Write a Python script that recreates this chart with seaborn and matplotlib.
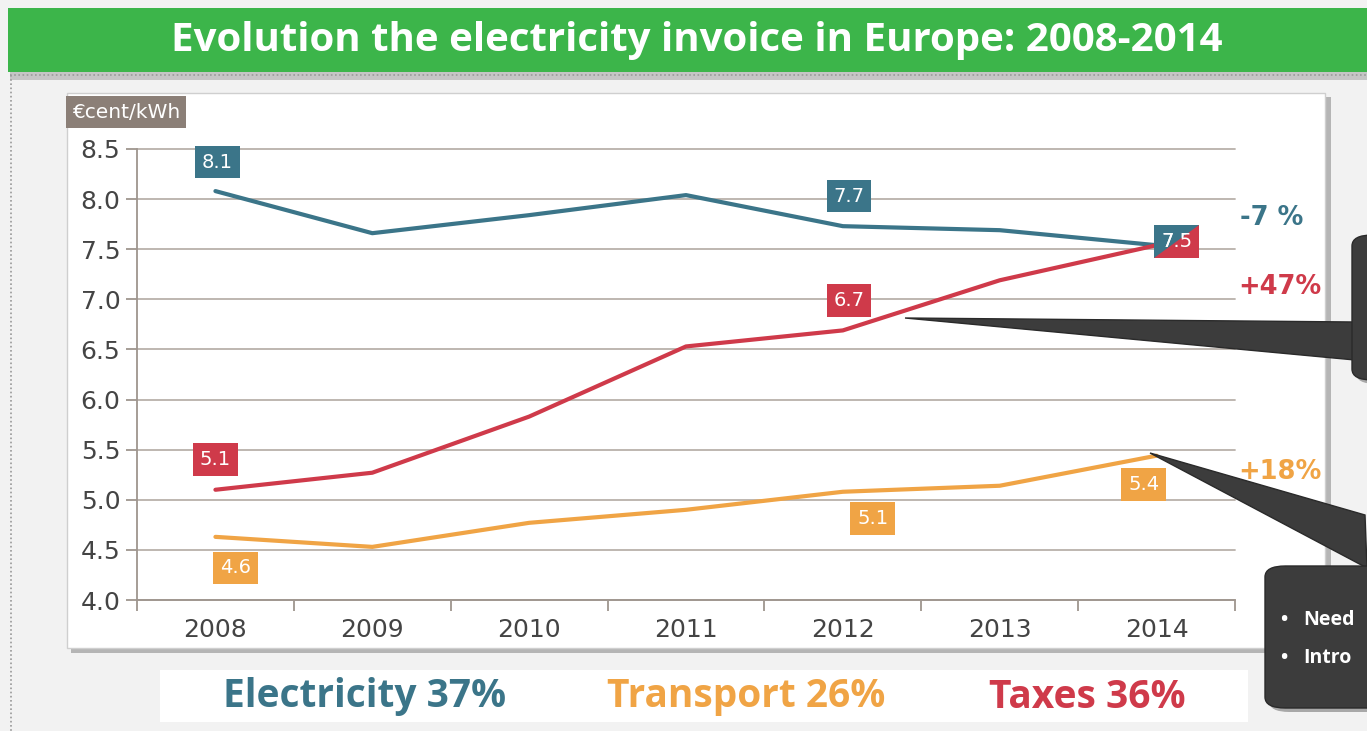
import matplotlib
matplotlib.use("Agg")
import matplotlib.pyplot as plt
from matplotlib.patches import Rectangle, FancyBboxPatch, Polygon
import seaborn as sns
import pandas as pd

# ---------------- data ----------------
years = ["2008", "2009", "2010", "2011", "2012", "2013", "2014"]
electricity = [8.08, 7.66, 7.84, 8.04, 7.73, 7.69, 7.54]
taxes = [5.10, 5.27, 5.83, 6.53, 6.69, 7.19, 7.54]
transport = [4.63, 4.53, 4.77, 4.90, 5.08, 5.14, 5.44]
series_names = ["Electricity", "Taxes", "Transport"]
changes = ["-7 %", "+47%", "+18%"]
shares = ["Electricity 37%", "Transport 26%", "Taxes 36%"]
title = "Evolution the electricity invoice in Europe: 2008-2014"
unit = "€cent/kWh"
yticks = [4.0, 4.5, 5.0, 5.5, 6.0, 6.5, 7.0, 7.5, 8.0, 8.5]
callout_words = ["Need", "Intro"]

C_EL = "#3b7589"
C_TX = "#cf3a4a"
C_TR = "#f0a445"
colors = {"Electricity": C_EL, "Taxes": C_TX, "Transport": C_TR}

W, H = 1367, 731
sns.set_theme(style="white")
plt.rcParams["font.family"] = ["DejaVu Sans"]

fig = plt.figure(figsize=(W / 100, H / 100), dpi=100)
fig.patch.set_facecolor("#f2f2f2")


def fx(x):
    return x / W


def fy(y):
    return 1 - y / H


def frect(x0, y0, x1, y1, **kw):
    r = Rectangle((fx(x0), fy(y1)), fx(x1) - fx(x0), fy(y0) - fy(y1),
                  transform=fig.transFigure, **kw)
    fig.add_artist(r)
    return r


# title bar
frect(10, 22, 1367, 80, facecolor="#9a9a9a", edgecolor="none", alpha=0.5, zorder=0)
frect(8, 8, 1367, 72, facecolor="#3cb54a", edgecolor="none", zorder=1)
fig.text(fx(697), fy(41), title, ha="center", va="center", color="white",
         fontsize=29, fontweight="bold", family=["Open Sans", "DejaVu Sans"], zorder=2)
# dotted lines
fig.add_artist(plt.Line2D([fx(10), fx(1367)], [fy(75), fy(75)], transform=fig.transFigure,
                          color="#999999", lw=1.2, ls=(0, (1, 1.5)), zorder=1))
fig.add_artist(plt.Line2D([fx(11), fx(11)], [fy(75), fy(731)], transform=fig.transFigure,
                          color="#999999", lw=1.2, ls=(0, (1, 1.5)), zorder=1))

# chart panel with shadow
frect(71, 97, 1331, 653, facecolor="#b5b5b5", edgecolor="none", zorder=0)
frect(67, 93, 1325, 648, facecolor="white", edgecolor="#cfcfcf", lw=1, zorder=0.5)

# bottom share panel
frect(160, 670, 1248, 722, facecolor="white", edgecolor="none", zorder=1)
share_colors = [C_EL, C_TR, C_TX]
share_x = [365, 746, 1087]
for s, c, x in zip(shares, share_colors, share_x):
    fig.text(fx(x), fy(697), s, ha="center", va="center", color=c, fontsize=28,
             fontweight="bold", family=["Open Sans", "DejaVu Sans"], zorder=2)

# ---------------- axes ----------------
ax = fig.add_axes([fx(137), fy(600), fx(1235) - fx(137), fy(149) - fy(600)])
ax.set_zorder(3)
ax.set_facecolor("none")
df = pd.DataFrame({
    "year": years * 3,
    "value": electricity + taxes + transport,
    "series": [series_names[0]] * 7 + [series_names[1]] * 7 + [series_names[2]] * 7,
})
df["pos"] = df["year"].map({y: i for i, y in enumerate(years)})
sns.lineplot(data=df, x="pos", y="value", hue="series", palette=colors, lw=3,
             legend=False, ax=ax, zorder=3)
ax.set_xlim(-0.5, len(years) - 0.5)
ax.set_ylim(4.0, 8.5)
ax.set_yticks(yticks)
ax.set_yticklabels([f"{v:.1f}" for v in yticks])
ax.set_xticks(range(len(years)))
ax.set_xticklabels(years)
ax.set_xticks([i - 0.5 for i in range(len(years) + 1)], minor=True)
for v in yticks:
    ax.axhline(v, color="#b9b1aa", lw=1.3, zorder=1, clip_on=False)
for sp in ["top", "right"]:
    ax.spines[sp].set_visible(False)
ax.spines["left"].set_color("#9e958e")
ax.spines["bottom"].set_color("#9e958e")
ax.spines["left"].set_linewidth(1.3)
ax.spines["bottom"].set_linewidth(1.3)
ax.tick_params(axis="y", which="major", length=8, width=1.3, color="#9e958e",
               labelsize=18, labelcolor="#444444", pad=4, direction="out", left=True)
ax.tick_params(axis="x", which="major", length=0, labelsize=18, labelcolor="#444444", pad=13)
ax.tick_params(axis="x", which="minor", length=8, width=1.3, color="#9e958e",
               direction="out", bottom=True)
ax.set_xlabel("")
ax.set_ylabel("")

# unit label
fig.text(fx(72), fy(112), unit, ha="left", va="center", color="white", fontsize=14.5,
         zorder=5, bbox=dict(boxstyle="square,pad=0.3", fc="#8b7f77", ec="none"))

# value labels (index, series, colour, dx, dy in pixels)
lab = [
    (0, electricity, C_EL, 2, 29),
    (4, electricity, C_EL, 6, 30),
    (4, taxes, C_TX, 6, 30),
    (0, taxes, C_TX, 0, 30),
    (4, transport, C_TR, 30, -27),
    (0, transport, C_TR, 20, -31),
    (6, transport, C_TR, -13, -29),
]
for i, ser, c, dx, dy in lab:
    ax.annotate(f"{ser[i]:.1f}", (i, ser[i]), xytext=(dx * 0.72, dy * 0.72),
                textcoords="offset points", ha="center", va="center", color="white",
                fontsize=14, zorder=6, annotation_clip=False,
                bbox=dict(boxstyle="square,pad=0.35", fc=c, ec="none"))

# split label at 2014 (electricity & taxes meet)
t = ax.annotate(f"{electricity[6]:.1f}", (6, electricity[6]), xytext=(20 * 0.72, 4 * 0.72),
                textcoords="offset points", ha="center", va="center", color="white",
                fontsize=14, zorder=6, annotation_clip=False,
                bbox=dict(boxstyle="square,pad=0.35", fc=C_EL, ec="none"))
fig.canvas.draw()
bb = t.get_bbox_patch().get_window_extent()
tri = Polygon([[bb.x1, bb.y1], [bb.x1, bb.y0], [bb.x0, bb.y0]], closed=True,
              transform=None, fc=C_TX, ec="none", zorder=6.5, clip_on=False)
ax.add_artist(tri)
ax.annotate(f"{electricity[6]:.1f}", (6, electricity[6]), xytext=(20 * 0.72, 4 * 0.72),
            textcoords="offset points", ha="center", va="center", color="white",
            fontsize=14, zorder=7, annotation_clip=False)

# change labels right of plot
chg_colors = [C_EL, C_TX, C_TR]
chg_pos = [(1240, 218), (1238, 287), (1238, 472)]
for s, c, (x, y) in zip(changes, chg_colors, chg_pos):
    fig.text(fx(x), fy(y), s, ha="left", va="center", color=c,
             fontsize=18.5, fontweight="bold", zorder=5)


# ---------------- callouts ----------------
def callout(box, tip, base):
    x0, y0, x1, y1 = box
    sh = FancyBboxPatch((fx(x0 + 4), fy(y1 + 4)), fx(x1) - fx(x0), fy(y0) - fy(y1),
                        boxstyle="round,pad=0,rounding_size=0.015", transform=fig.transFigure,
                        fc="#777777", ec="none", alpha=0.6, zorder=8)
    fig.add_artist(sh)
    p = Polygon([[fx(tip[0]), fy(tip[1])], [fx(base[0][0]), fy(base[0][1])],
                 [fx(base[1][0]), fy(base[1][1])]], closed=True, transform=fig.transFigure,
                fc="#3c3c3c", ec="#2a2a2a", lw=1, zorder=8.5)
    fig.add_artist(p)
    b = FancyBboxPatch((fx(x0), fy(y1)), fx(x1) - fx(x0), fy(y0) - fy(y1),
                       boxstyle="round,pad=0,rounding_size=0.015", transform=fig.transFigure,
                       fc="#3c3c3c", ec="#2a2a2a", lw=1, zorder=9)
    fig.add_artist(b)


callout((1352, 235, 1400, 380), (905, 318), [(1355, 322), (1355, 360)])
callout((1265, 566, 1400, 708), (1150, 453), [(1365, 515), (1367, 568)])
for word, ty in zip(callout_words, [620, 658]):
    fig.text(fx(1280), fy(ty), "•", ha="left", va="center", color="white", fontsize=14,
             fontweight="bold", family=["Open Sans", "DejaVu Sans"], zorder=10)
    fig.text(fx(1303), fy(ty), word, ha="left", va="center", color="white", fontsize=14,
             fontweight="bold", family=["Open Sans", "DejaVu Sans"], zorder=10)

fig.savefig("out.png", dpi=100, facecolor=fig.get_facecolor())
